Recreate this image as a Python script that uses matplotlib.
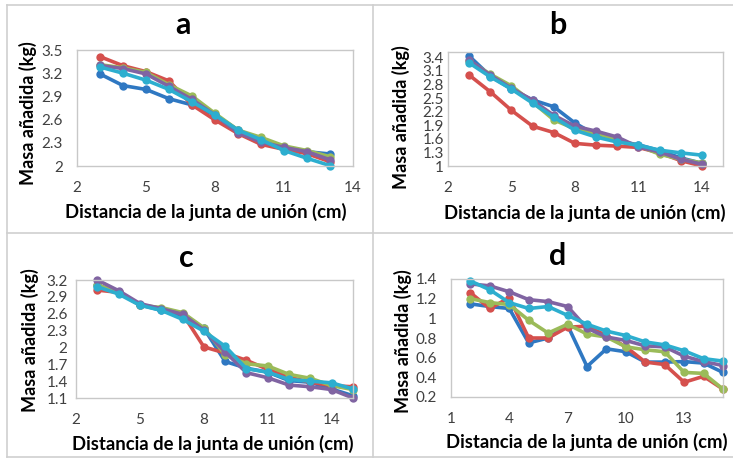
import matplotlib
matplotlib.use("Agg")
import matplotlib.pyplot as plt
from matplotlib.lines import Line2D
from matplotlib.ticker import FuncFormatter

plt.rcParams['font.family'] = ['Lato', 'DejaVu Sans']

W, H = 733, 459
DPI = 100

# ---- data -------------------------------------------------------------
series_names = ["S1", "S2", "S3", "S4", "S5"]
series_colors = ["#2F78C2", "#D5504D", "#9BBB59", "#8064A2", "#2DAECF"]

x_a = [3, 4, 5, 6, 7, 8, 9, 10, 11, 12, 13]
a_s1 = [3.19, 3.04, 2.99, 2.87, 2.79, 2.66, 2.465, 2.31, 2.23, 2.185, 2.155]
a_s2 = [3.414, 3.297, 3.22, 3.10, 2.79, 2.595, 2.42, 2.28, 2.215, 2.16, 2.055]
a_s3 = [3.31, 3.27, 3.21, 3.05, 2.905, 2.68, 2.465, 2.37, 2.26, 2.20, 2.12]
a_s4 = [3.30, 3.26, 3.19, 3.03, 2.86, 2.66, 2.43, 2.31, 2.24, 2.185, 2.08]
a_s5 = [3.28, 3.20, 3.11, 2.99, 2.83, 2.66, 2.465, 2.34, 2.20, 2.10, 2.005]

x_b = [3, 4, 5, 6, 7, 8, 9, 10, 11, 12, 13, 14]
b_s1 = [3.43, 2.99, 2.70, 2.46, 2.31, 1.95, 1.68, 1.55, 1.47, 1.34, 1.18, 1.06]
b_s2 = [3.01, 2.64, 2.23, 1.88, 1.74, 1.50, 1.46, 1.44, 1.41, 1.29, 1.12, 1.00]
b_s3 = [3.32, 3.03, 2.77, 2.41, 2.02, 1.82, 1.73, 1.57, 1.45, 1.26, 1.15, 1.07]
b_s4 = [3.34, 3.01, 2.72, 2.45, 2.12, 1.88, 1.77, 1.64, 1.42, 1.31, 1.15, 1.04]
b_s5 = [3.28, 2.97, 2.70, 2.39, 2.08, 1.79, 1.64, 1.53, 1.46, 1.35, 1.29, 1.24]

x_c = [3, 4, 5, 6, 7, 8, 9, 10, 11, 12, 13, 14, 15]
c_s1 = [3.11, 2.98, 2.76, 2.66, 2.57, 2.34, 1.75, 1.63, 1.56, 1.41, 1.38, 1.26, 1.14]
c_s2 = [3.02, 2.98, 2.76, 2.69, 2.60, 2.01, 1.90, 1.77, 1.61, 1.47, 1.38, 1.32, 1.30]
c_s3 = [3.11, 2.99, 2.75, 2.71, 2.62, 2.35, 1.87, 1.71, 1.67, 1.52, 1.45, 1.32, 1.25]
c_s4 = [3.20, 3.01, 2.78, 2.69, 2.59, 2.31, 1.92, 1.55, 1.46, 1.33, 1.30, 1.25, 1.10]
c_s5 = [3.08, 2.95, 2.75, 2.66, 2.50, 2.29, 2.02, 1.62, 1.56, 1.43, 1.40, 1.37, 1.26]

x_d = [2, 3, 4, 5, 6, 7, 8, 9, 10, 11, 12, 13, 14, 15]
d_s1 = [1.147, 1.12, 1.10, 0.75, 0.80, 0.93, 0.51, 0.69, 0.66, 0.555, 0.555, 0.56, 0.545, 0.45]
d_s2 = [1.26, 1.10, 1.21, 0.80, 0.80, 0.91, 0.92, 0.825, 0.71, 0.555, 0.53, 0.35, 0.41, 0.28]
d_s3 = [1.20, 1.16, 1.14, 0.98, 0.85, 0.94, 0.84, 0.81, 0.71, 0.68, 0.66, 0.45, 0.44, 0.28]
d_s4 = [1.35, 1.33, 1.27, 1.19, 1.17, 1.12, 0.90, 0.81, 0.775, 0.72, 0.71, 0.615, 0.56, 0.52]
d_s5 = [1.38, 1.29, 1.16, 1.10, 1.12, 1.03, 0.94, 0.87, 0.825, 0.76, 0.73, 0.67, 0.59, 0.565]

panel_titles = ["a", "b", "c", "d"]
x_label = "Distancia de la junta de unión (cm)"
y_label = "Masa añadida (kg)"

xticks_a = [2, 5, 8, 11, 14]
xticks_b = [2, 5, 8, 11, 14]
xticks_c = [2, 5, 8, 11, 14]
xticks_d = [1, 4, 7, 10, 13]
yticks_a = [2.0, 2.3, 2.6, 2.9, 3.2, 3.5]
yticks_b = [1.0, 1.3, 1.6, 1.9, 2.2, 2.5, 2.8, 3.1, 3.4]
yticks_c = [1.1, 1.4, 1.7, 2.0, 2.3, 2.6, 2.9, 3.2]
yticks_d = [0.2, 0.4, 0.6, 0.8, 1.0, 1.2, 1.4]

# ---- figure -----------------------------------------------------------
fig = plt.figure(figsize=(W / DPI, H / DPI), dpi=DPI)
fig.patch.set_facecolor("white")


def fx(px):
    return px / W


def fy(py):
    return 1 - py / H


def general_fmt(v, _pos):
    s = f"{v:.1f}"
    return s[:-2] if s.endswith(".0") else s


panels = [
    # title, x, ys, xlim, ylim, xticks, yticks, box(l, r, t, b), ytick pad, title xy, xlabel xy, ylabel xy
    (panel_titles[0], x_a, [a_s1, a_s2, a_s3, a_s4, a_s5], (2, 14), (2.0, 3.5), xticks_a, yticks_a,
     (77, 353, 50, 166), 10.0, (183, 33), (206, 212), (28, 113)),
    (panel_titles[1], x_b, [b_s1, b_s2, b_s3, b_s4, b_s5], (2, 15), (1.0, 3.52), xticks_b, yticks_b,
     (448, 723, 52, 166), 3.0, (558, 33), (585, 213), (401, 117)),
    (panel_titles[2], x_c, [c_s1, c_s2, c_s3, c_s4, c_s5], (2, 15), (1.1, 3.2), xticks_c, yticks_c,
     (76, 353, 280, 398), 6.0, (186, 266), (213, 444), (30, 340)),
    (panel_titles[3], x_d, [d_s1, d_s2, d_s3, d_s4, d_s5], (1, 15), (0.2, 1.4), xticks_d, yticks_d,
     (451, 723, 279, 397), 10.0, (558, 264), (587, 442), (403, 341)),
]

for (title, xs, ys, xlim, ylim, xt, yt, box, ypad, txy, xlxy, ylxy) in panels:
    l, r, t, b = box
    ax = fig.add_axes([fx(l), fy(b), fx(r) - fx(l), fy(t) - fy(b)])
    for vals, name, col in zip(ys, series_names, series_colors):
        ax.plot(xs, vals, color=col, lw=2.6, marker="o", ms=6,
                markeredgewidth=0, label=name, solid_joinstyle="round",
                clip_on=False)
    ax.set_xlim(*xlim)
    ax.set_ylim(*ylim)
    ax.set_xticks(xt)
    ax.set_yticks(yt)
    ax.yaxis.set_major_formatter(FuncFormatter(general_fmt))
    ax.tick_params(length=0, labelsize=11, labelcolor="#404040")
    ax.tick_params(axis="x", pad=11)
    ax.tick_params(axis="y", pad=ypad)
    for s in ax.spines.values():
        s.set_color("#C8C8C8")
        s.set_linewidth(1.0)

    w_px = r - l
    h_px = b - t
    ax.set_title(title, fontsize=22, fontweight="bold", color="black",
                 x=(txy[0] - l) / w_px, y=(b - txy[1]) / h_px, va="center")
    ax.set_xlabel(x_label, fontsize=13.3, fontweight="bold", color="black")
    ax.xaxis.set_label_coords((xlxy[0] - l) / w_px, (b - xlxy[1]) / h_px)
    ax.xaxis.label.set_va("center")
    ax.set_ylabel(y_label, fontsize=13, fontweight="bold", color="black")
    ax.yaxis.set_label_coords((ylxy[0] - l) / w_px, (b - ylxy[1]) / h_px)
    ax.yaxis.label.set_va("center")

# panel frame lines
frame_col = "#CFCFCF"
for (x0, y0, x1, y1) in [(7, 5, 733, 5), (7, 5, 7, 457), (7, 457, 733, 457),
                         (373, 5, 373, 457), (7, 233, 733, 233)]:
    fig.add_artist(Line2D([fx(x0), fx(x1)], [fy(y0), fy(y1)],
                          color=frame_col, lw=1.2))

fig.savefig("out.png", dpi=DPI)
